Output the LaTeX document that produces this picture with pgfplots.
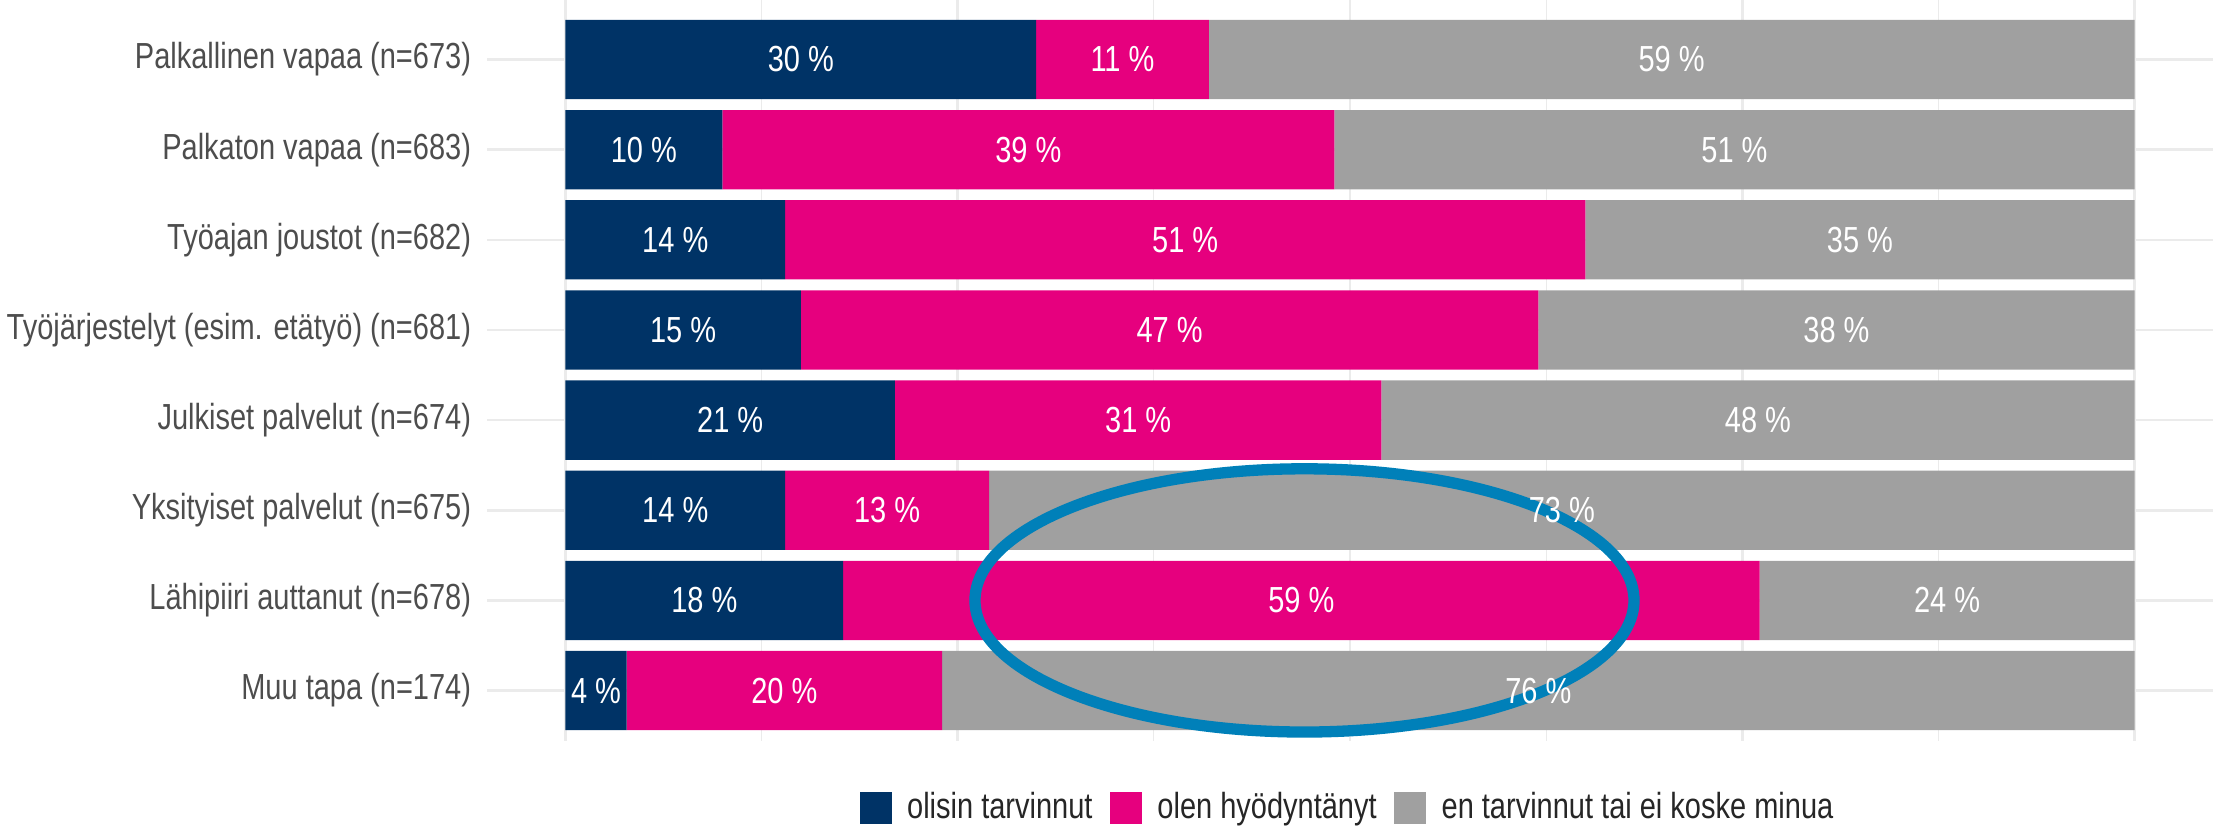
\documentclass[border=0pt]{standalone}
\usepackage{fontspec}
\setmainfont{Liberation Sans}
\usepackage{pgfplots}
\usepackage{pgfplotstable}
\pgfplotsset{compat=1.18}

\definecolor{navy}{HTML}{003366}
\definecolor{mag}{HTML}{E6007E}
\definecolor{gr}{HTML}{A0A0A0}
\definecolor{gridc}{HTML}{EBEBEB}
\definecolor{ring}{HTML}{0080B9}
\definecolor{lab}{HTML}{4D4D4D}

\pgfplotstableread{
row a b c la lb lc
0 30 11 59 30 11 59
1 10 39 51 10 39 51
2 14 51 35 14 51 35
3 15 47 38 15 47 38
4 21 31 48 21 31 48
5 14 13 73 14 13 73
6 17.7 58.4 23.9 18 59 24
7 3.9 20.1 76 4 20 76
}\data

\newcommand{\fs}{\fontsize{8.25}{9.9}\selectfont}
\newcommand{\st}[1]{\scalebox{1}[1.25]{#1}}

\pgfplotsset{base/.style={
  scale only axis, width=172.6mm, height=74.1mm,
  xmin=-5, xmax=105, ymin=-0.66, ymax=7.56, y dir=reverse,
}}

\begin{document}
\fs
\begin{tikzpicture}
\begin{axis}[base,
  xbar stacked, bar width=0.88,
  ytick={0,...,7},
  yticklabels={Palkallinen vapaa (n=673),Palkaton vapaa (n=683),Työajan joustot (n=682),Työjärjestelyt (esim. etätyö) (n=681),Julkiset palvelut (n=674),Yksityiset palvelut (n=675),Lähipiiri auttanut (n=678),Muu tapa (n=174)},
  yticklabel style={text=lab, font=\fs, yscale=1.25, xshift=-0.56mm},
  xtick={0,25,50,75,100}, minor xtick={12.5,37.5,62.5,87.5},
  xticklabels={},
  major tick length=0pt, minor tick length=0pt,
  xmajorgrids, xminorgrids, ymajorgrids,
  major grid style={gridc, line width=0.25mm},
  minor grid style={gridc, line width=0.12mm},
  axis line style={draw=none},
  legend columns=-1,
  legend style={at={(0.5,-0.0904)}, anchor=center, draw=none, fill=none,
    font=\fs, text=black!85,
    /tikz/every even column/.append style={column sep=1.04mm}},
  legend image code/.code={\fill[#1] (0mm,-1.6mm) rectangle (3.2mm,1.6mm); \path (4.05mm,0mm);},
]
\addplot[fill=navy, draw=none] table[x=a, y=row] {\data};
\addplot[fill=mag, draw=none] table[x=b, y=row] {\data};
\addplot[fill=gr, draw=none] table[x=c, y=row] {\data};
\legend{\st{olisin tarvinnut}, \st{olen hyödyntänyt}, \st{en tarvinnut tai ei koske minua}}
\coordinate (p1) at (axis cs:-5,7.56);
\coordinate (p2) at (axis cs:105,-0.66);
\end{axis}
\begin{axis}[base, hide axis, clip=false,
  every node near coord/.style={anchor=center, text=white, font=\fs},
  nodes near coords={\st{\pgfplotspointmeta{} \%}},
  point meta=explicit symbolic]
\addplot[draw=none, mark=none] table[x expr=\thisrow{a}/2, y=row, meta=la] {\data};
\addplot[draw=none, mark=none] table[x expr=\thisrow{a}+\thisrow{b}/2, y=row, meta=lb] {\data};
\addplot[draw=none, mark=none] table[x expr=\thisrow{a}+\thisrow{b}+\thisrow{c}/2, y=row, meta=lc] {\data};
\draw[ring, line width=1.13mm] (axis cs:47.1,6) ellipse [x radius=21.0, y radius=1.46];
\end{axis}
\pgfresetboundingbox
\path ([shift={(-48.7mm,-8.4mm)}]p1) rectangle (p2);
\end{tikzpicture}
\end{document}
